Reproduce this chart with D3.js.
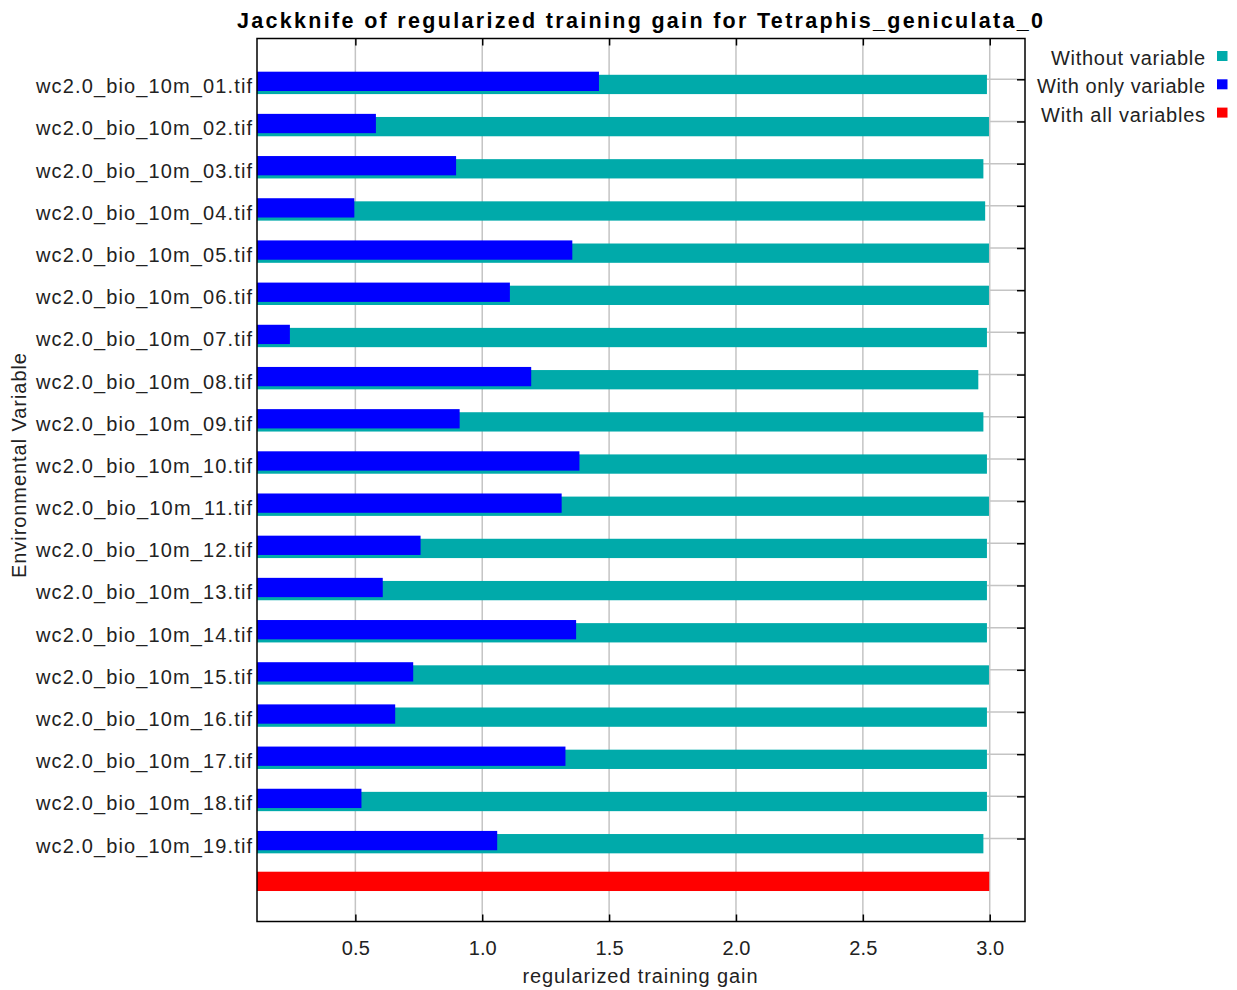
<!DOCTYPE html>
<html>
<head>
<meta charset="utf-8">
<script src="https://cdn.jsdelivr.net/npm/d3@7"></script>
<style>
  html, body { margin: 0; padding: 0; background: #fff; }
  svg { display: block; font-family: "Liberation Sans", Arial, sans-serif; }
</style>
</head>
<body>
<svg id="chart" width="1237" height="990"></svg>
<script>
// ---- data ----
const variables = [
  "wc2.0_bio_10m_01.tif", "wc2.0_bio_10m_02.tif", "wc2.0_bio_10m_03.tif",
  "wc2.0_bio_10m_04.tif", "wc2.0_bio_10m_05.tif", "wc2.0_bio_10m_06.tif",
  "wc2.0_bio_10m_07.tif", "wc2.0_bio_10m_08.tif", "wc2.0_bio_10m_09.tif",
  "wc2.0_bio_10m_10.tif", "wc2.0_bio_10m_11.tif", "wc2.0_bio_10m_12.tif",
  "wc2.0_bio_10m_13.tif", "wc2.0_bio_10m_14.tif", "wc2.0_bio_10m_15.tif",
  "wc2.0_bio_10m_16.tif", "wc2.0_bio_10m_17.tif", "wc2.0_bio_10m_18.tif",
  "wc2.0_bio_10m_19.tif"
];
const withoutVariable = [
  2.989, 2.997, 2.975, 2.982, 2.997, 2.997, 2.989, 2.955, 2.975, 2.989,
  2.997, 2.989, 2.989, 2.989, 2.997, 2.989, 2.989, 2.989, 2.975
];
const withOnlyVariable = [
  1.460, 0.581, 0.897, 0.496, 1.355, 1.109, 0.242, 1.193, 0.911, 1.383,
  1.313, 0.757, 0.608, 1.370, 0.728, 0.657, 1.328, 0.524, 1.059
];
const withAllVariables = 2.998;
const xTicks = [0.5, 1.0, 1.5, 2.0, 2.5, 3.0];
const xDomain = [0.1124, 3.139];
const legendItems = ["Without variable", "With only variable", "With all variables"];
const titleText = "Jackknife of regularized training gain for Tetraphis_geniculata_0";
const xLabel = "regularized training gain";
const yLabel = "Environmental Variable";

// ---- style ----
const colors = { without: "#00AAAA", only: "#0000FF", all: "#FF0000" };
const legendColors = [colors.without, colors.only, colors.all];
const grid = "#c4c4c4";
const textColor = "#222";
const fontSize = 20;

const plot = { left: 257, right: 1025, top: 38.5, bottom: 921.5 };
const svg = d3.select("#chart");

const x = d3.scaleLinear().domain(xDomain).range([plot.left, plot.right]);
const rowKeys = variables.concat(["__all__"]);
const y = d3.scalePoint().domain(rowKeys).range([plot.top, plot.bottom]).padding(0.967);
const barH = 19.3;

// gridlines
const g = svg.append("g");
g.selectAll("line.vg").data(xTicks).join("line")
  .attr("x1", d => x(d)).attr("x2", d => x(d))
  .attr("y1", plot.top).attr("y2", plot.bottom)
  .attr("stroke", grid).attr("stroke-width", 1.5);
g.selectAll("line.hg").data(variables).join("line")
  .attr("x1", plot.left).attr("x2", plot.right)
  .attr("y1", d => y(d)).attr("y2", d => y(d))
  .attr("stroke", grid).attr("stroke-width", 1.5);

// bars
const rows = variables.map((v, i) => ({ key: v, without: withoutVariable[i], only: withOnlyVariable[i] }));
svg.append("g").selectAll("rect").data(rows).join("rect")
  .attr("x", x(xDomain[0]))
  .attr("y", d => y(d.key) - 4.5)
  .attr("width", d => x(d.without) - x(xDomain[0]))
  .attr("height", barH)
  .attr("fill", colors.without);
svg.append("g").selectAll("rect").data(rows).join("rect")
  .attr("x", x(xDomain[0]))
  .attr("y", d => y(d.key) - 7.6)
  .attr("width", d => x(d.only) - x(xDomain[0]))
  .attr("height", barH)
  .attr("fill", colors.only);
svg.append("rect")
  .attr("x", x(xDomain[0]))
  .attr("y", y("__all__") - 9)
  .attr("width", x(withAllVariables) - x(xDomain[0]))
  .attr("height", barH)
  .attr("fill", colors.all);

// frame
svg.append("rect")
  .attr("x", plot.left).attr("y", plot.top)
  .attr("width", plot.right - plot.left).attr("height", plot.bottom - plot.top)
  .attr("fill", "none").attr("stroke", "#000").attr("stroke-width", 1.5);

// x axes (bottom + top ticks, inward)
const axB = svg.append("g").attr("transform", `translate(0,${plot.bottom})`)
  .call(d3.axisBottom(x).tickValues(xTicks).tickSizeInner(-7).tickSizeOuter(0).tickFormat(d3.format(".1f")));
axB.select(".domain").remove();
axB.selectAll(".tick line").attr("stroke", "#000").attr("stroke-width", 1.5);
axB.selectAll(".tick text").attr("y", 33.5).attr("dy", null)
  .attr("font-size", fontSize).attr("fill", textColor)
  .attr("font-family", '"Liberation Sans", Arial, sans-serif')
  .attr("textLength", 28).attr("lengthAdjust", "spacing");

const axT = svg.append("g").attr("transform", `translate(0,${plot.top})`)
  .call(d3.axisTop(x).tickValues(xTicks).tickSizeInner(-7).tickSizeOuter(0).tickFormat(""));
axT.select(".domain").remove();
axT.selectAll(".tick line").attr("stroke", "#000").attr("stroke-width", 1.5);

// right axis ticks (inward)
const axR = svg.append("g").attr("transform", `translate(${plot.right},0)`)
  .call(d3.axisRight(y).tickValues(variables).tickSizeInner(-8).tickSizeOuter(0).tickFormat(""));
axR.select(".domain").remove();
axR.selectAll(".tick line").attr("stroke", "#000").attr("stroke-width", 1.5);

// category labels
const axL = svg.append("g").attr("transform", `translate(${plot.left},0)`)
  .call(d3.axisLeft(y).tickValues(variables).tickSize(0).tickPadding(5));
axL.select(".domain").remove();
axL.selectAll(".tick text")
  .attr("dy", null).attr("y", 13.5)
  .attr("font-size", fontSize).attr("fill", textColor)
  .attr("font-family", '"Liberation Sans", Arial, sans-serif')
  .attr("textLength", 216).attr("lengthAdjust", "spacing");

// title
svg.append("text")
  .attr("x", 640).attr("y", 28).attr("text-anchor", "middle")
  .attr("font-size", 21.5).attr("font-weight", "bold").attr("fill", "#000")
  .attr("textLength", 806).attr("lengthAdjust", "spacing")
  .text(titleText);

// axis titles
svg.append("text")
  .attr("x", 640).attr("y", 983).attr("text-anchor", "middle")
  .attr("font-size", fontSize).attr("fill", textColor)
  .attr("textLength", 235).attr("lengthAdjust", "spacing")
  .text(xLabel);
svg.append("text")
  .attr("transform", "translate(25.5,465.5) rotate(-90)")
  .attr("text-anchor", "middle")
  .attr("font-size", fontSize).attr("fill", textColor)
  .attr("textLength", 225).attr("lengthAdjust", "spacing")
  .text(yLabel);

// legend
const legendWidths = [154, 168, 164];
const leg = svg.append("g");
legendItems.forEach((name, i) => {
  const cy = 56 + i * 28.3;
  leg.append("rect").attr("x", 1217).attr("y", cy - 5).attr("width", 10.5).attr("height", 10)
    .attr("fill", legendColors[i]);
  leg.append("text").attr("x", 1205).attr("y", cy + 9).attr("text-anchor", "end")
    .attr("font-size", fontSize).attr("fill", textColor)
    .attr("textLength", legendWidths[i]).attr("lengthAdjust", "spacing")
    .text(name);
});
</script>
</body>
</html>
